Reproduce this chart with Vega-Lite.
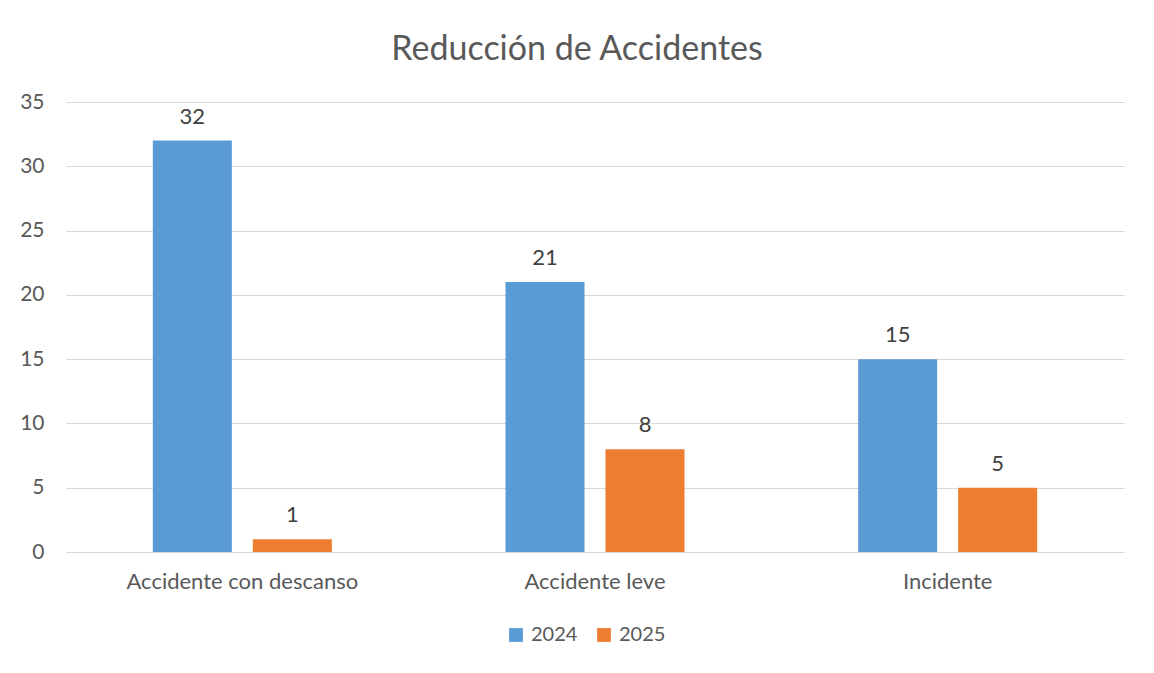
{
  "$schema": "https://vega.github.io/schema/vega-lite/v6.json",
  "width": 1058,
  "height": 450,
  "autosize": {"type": "none"},
  "padding": {"left": 66, "top": 102, "right": 30, "bottom": 121},
  "background": "#ffffff",
  "title": {
    "text": "Reducción de Accidentes",
    "font": "Lato",
    "fontSize": 34,
    "fontWeight": "normal",
    "color": "#595959",
    "anchor": "middle",
    "dx": -18,
    "offset": 24
  },
  "data": {
    "values": [
      {"categoria": "Accidente con descanso", "anio": "2024", "valor": 32},
      {"categoria": "Accidente con descanso", "anio": "2025", "valor": 1},
      {"categoria": "Accidente leve", "anio": "2024", "valor": 21},
      {"categoria": "Accidente leve", "anio": "2025", "valor": 8},
      {"categoria": "Incidente", "anio": "2024", "valor": 15},
      {"categoria": "Incidente", "anio": "2025", "valor": 5}
    ]
  },
  "encoding": {
    "x": {
      "field": "categoria",
      "type": "nominal",
      "sort": null,
      "scale": {"paddingInner": 0, "paddingOuter": 0},
      "axis": {
        "title": null,
        "labelAngle": 0,
        "labelLimit": 0,
        "labelFont": "Lato",
        "labelFontSize": 22,
        "labelColor": "#595959",
        "labelPadding": 19,
        "ticks": false,
        "domainColor": "#D9D9D9",
        "domainWidth": 1,
        "grid": false
      }
    },
    "xOffset": {
      "field": "anio",
      "type": "nominal",
      "scale": {"paddingInner": 0.21, "paddingOuter": 0.868}
    },
    "y": {
      "field": "valor",
      "type": "quantitative",
      "scale": {"domain": [0, 35], "nice": false},
      "axis": {
        "title": null,
        "values": [0, 5, 10, 15, 20, 25, 30, 35],
        "labelFont": "Lato",
        "labelFontSize": 21,
        "labelColor": "#595959",
        "labelPadding": 22,
        "ticks": false,
        "domain": false,
        "gridColor": "#D9D9D9",
        "gridWidth": 1
      }
    }
  },
  "layer": [
    {
      "mark": {"type": "bar"},
      "encoding": {
        "color": {
          "field": "anio",
          "type": "nominal",
          "scale": {"domain": ["2024", "2025"], "range": ["#5B9BD5", "#ED7D31"]},
          "legend": {
            "title": null,
            "orient": "none",
            "legendX": 440,
            "legendY": 523,
            "direction": "horizontal",
            "symbolType": "square",
            "symbolSize": 190,
            "symbolStrokeWidth": 0,
            "labelFont": "Lato",
            "labelFontSize": 20,
            "labelColor": "#595959",
            "labelOffset": 5,
            "columnPadding": 16
          }
        }
      }
    },
    {
      "mark": {
        "type": "text",
        "font": "Lato",
        "fontSize": 22,
        "color": "#404040",
        "baseline": "middle",
        "dy": -24
      },
      "encoding": {
        "text": {"field": "valor", "type": "quantitative"}
      }
    }
  ],
  "config": {
    "view": {"stroke": null}
  }
}
